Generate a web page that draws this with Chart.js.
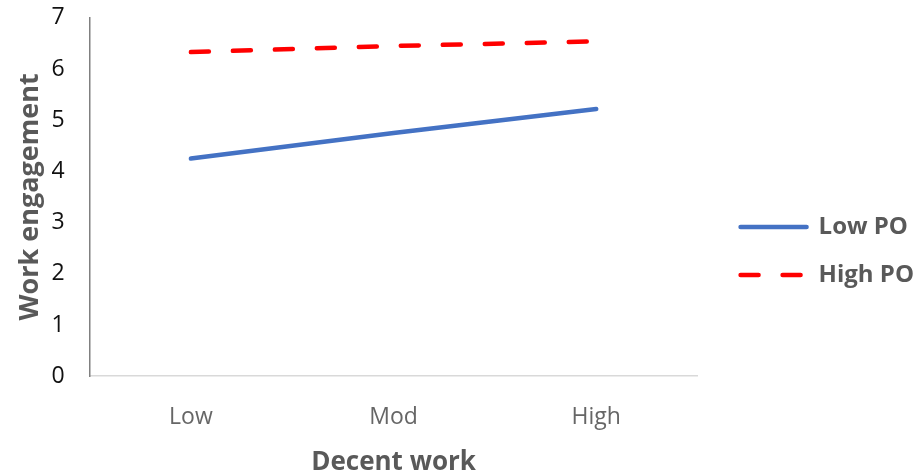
<!DOCTYPE html>
<html><head><meta charset="utf-8">
<script src="https://cdn.jsdelivr.net/npm/chart.js@4"></script>
<style>html,body{margin:0;padding:0;background:#fff}#wrap{width:924px;height:475px}</style>
</head><body><div id="wrap"><canvas id="c"></canvas></div>
<script>
const categories = ["Low", "Mod", "High"];
const lowPO = [4.25, 4.75, 5.22];
const highPO = [6.33, 6.45, 6.54];
const yTicks = [0, 1, 2, 3, 4, 5, 6, 7];
const xTitle = "Decent work";
const yTitle = "Work engagement";

const FONT = "'Open Sans', Lato, sans-serif";

const legendShift = {
  id: 'legendShift',
  afterLayout(chart) {
    const l = chart.legend;
    if (!l) return;
    l.left += 19; l.right += 19;
    l.top += 10; l.bottom += 10;
  }
};

new Chart(document.getElementById('c'), {
  type: 'line',
  data: {
    labels: categories,
    datasets: [
      {label: 'Low PO', data: lowPO, borderColor: '#4472C4', backgroundColor: '#4472C4', borderWidth: 4.5, pointRadius: 0, borderCapStyle: 'round', tension: 0},
      {label: 'High PO', data: highPO, borderColor: '#FF0000', backgroundColor: '#FF0000', borderWidth: 4.5, pointRadius: 0, borderCapStyle: 'round', borderDash: [18, 24], tension: 0}
    ]
  },
  plugins: [legendShift],
  options: {
    responsive: true, maintainAspectRatio: false, animation: false,
    layout: {padding: {left: 0, right: 19, top: 4, bottom: -3}},
    plugins: {
      tooltip: {enabled: false},
      legend: {
        position: 'right', align: 'center',
        labels: {
          usePointStyle: true, pointStyle: 'line', pointStyleWidth: 66, boxHeight: 10, padding: 24,
          color: '#595959', font: {family: FONT, size: 24, weight: 'bold'},
          generateLabels: (chart) => {
            const items = Chart.defaults.plugins.legend.labels.generateLabels(chart);
            items.forEach((it) => {
              const ds = chart.data.datasets[it.datasetIndex];
              it.lineDash = ds.borderDash || [];
              it.lineWidth = ds.borderWidth;
              it.strokeStyle = ds.borderColor;
              it.fillStyle = ds.borderColor;
              it.lineCap = 'round';
              it.pointStyle = 'line';
            });
            return items;
          }
        }
      }
    },
    scales: {
      x: {
        offset: true,
        grid: {display: false, drawTicks: true, tickLength: 23},
        border: {display: true, color: '#d9d9d9', width: 1.5},
        ticks: {color: '#666666', font: {family: FONT, size: 23}, padding: 4},
        title: {display: true, text: xTitle, color: '#595959', font: {family: FONT, size: 26, weight: 'bold'}, padding: {top: 12, bottom: 0}}
      },
      y: {
        min: 0, max: 7,
        afterBuildTicks: (s) => { s.ticks = yTicks.map(v => ({value: v})); },
        grid: {display: false, drawTicks: true, tickLength: 21},
        border: {display: true, color: '#808080', width: 1.5},
        ticks: {color: '#111111', font: {family: FONT, size: 23}, padding: 4},
        title: {display: true, text: yTitle, color: '#595959', font: {family: FONT, size: 27, weight: 'bold'}, padding: {top: 14, bottom: 1}}
      }
    }
  }
});
</script></body></html>
